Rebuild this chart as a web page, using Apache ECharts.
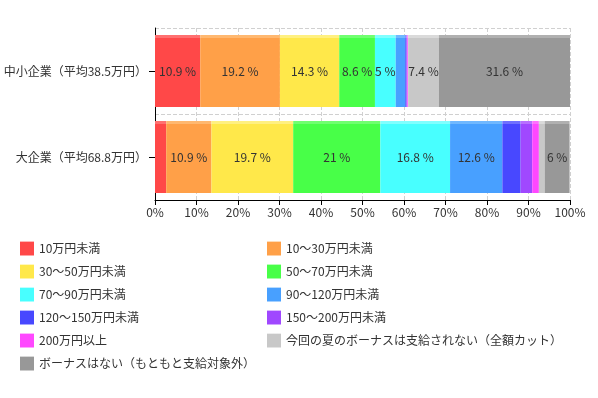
<!DOCTYPE html>
<html><head><meta charset="utf-8">
<script src="https://cdn.jsdelivr.net/npm/echarts@6/dist/echarts.min.js"></script>
<style>html,body{margin:0;padding:0;background:#fff}#c{width:598px;height:398px}</style>
</head><body><div id="c"></div>
<script>
const categories = ['中小企業（平均38.5万円）', '大企業（平均68.8万円）'];
const seriesNames = ['10万円未満','10～30万円未満','30～50万円未満','50～70万円未満','70～90万円未満','90～120万円未満','120～150万円未満','150～200万円未満','200万円以上','今回の夏のボーナスは支給されない（全額カット）','ボーナスはない（もともと支給対象外）'];
const smallCo = [10.9, 19.2, 14.3, 8.6, 5, 2.3, 0.3, 0.2, 0.2, 7.4, 31.6];
const largeCo = [2.7, 10.9, 19.7, 21, 16.8, 12.6, 4.4, 2.8, 1.6, 1.4, 6];
const colors = ['#ff4848','#ffa048','#ffe84a','#48ff48','#48ffff','#48a0ff','#4848ff','#a048ff','#ff48ff','#c8c8c8','#989898'];
const tops = ['#ff7070','#ffb870','#fff080','#70ff70','#80ffff','#70b8ff','#7070ff','#b870ff','#ff70ff','#dadada','#b0b0b0'];
const xTicks = [0,10,20,30,40,50,60,70,80,90,100];

const font = '"Noto Sans CJK JP", "Noto Sans", sans-serif';
const series = seriesNames.map((n, i) => ({
  name: n, type: 'bar', stack: 'all', barWidth: 72,
  data: [smallCo[i], largeCo[i]],
  itemStyle: { color: { type: 'linear', x: 0, y: 0, x2: 0, y2: 1, colorStops: [
    {offset: 0, color: tops[i]}, {offset: 0.035, color: tops[i]}, {offset: 0.036, color: colors[i]}, {offset: 1, color: colors[i]}] } },
  label: { show: true, position: 'inside', color: '#333', fontSize: 12, fontFamily: font,
    formatter: p => p.value >= 5 ? p.value + ' %' : '' }
}));
const leftItems = seriesNames.filter((_, i) => i % 2 === 0);
const rightItems = seriesNames.filter((_, i) => i % 2 === 1);
const chart = echarts.init(document.getElementById('c'), null, {renderer: 'canvas'});
chart.setOption({
  animation: false,
  color: colors,
  grid: { left: 155, right: 28, top: 28, bottom: 198 },
  xAxis: { type: 'value', min: 0, max: 100, interval: 10,
    axisLine: { show: true, lineStyle: { color: '#000' } },
    axisTick: { show: true, length: 5, lineStyle: { color: '#000' } },
    axisLabel: { color: '#333', fontSize: 12, fontFamily: font, margin: 6, formatter: v => xTicks.includes(v) ? v + '%' : '' },
    splitLine: { show: true, lineStyle: { type: 'dashed', color: '#d0d0d0' } } },
  yAxis: { type: 'category', data: categories, inverse: true,
    axisLine: { show: true, lineStyle: { color: '#000' } },
    axisTick: { show: true, alignWithLabel: true, length: 6, lineStyle: { color: '#000' } },
    axisLabel: { color: '#333', fontSize: 12, fontFamily: font, margin: 8 },
    splitLine: { show: true, lineStyle: { type: 'dashed', color: '#d0d0d0' } } },
  legend: [
    { data: leftItems, orient: 'vertical', left: 20, top: 240, padding: 0, itemWidth: 14, itemHeight: 14, itemGap: 6,
      icon: 'rect', textStyle: { color: '#333', fontSize: 12, fontFamily: font, lineHeight: 17 }, selectedMode: false },
    { data: rightItems, orient: 'vertical', left: 267, top: 240, padding: 0, itemWidth: 14, itemHeight: 14, itemGap: 6,
      icon: 'rect', textStyle: { color: '#333', fontSize: 12, fontFamily: font, lineHeight: 17 }, selectedMode: false }
  ],
  series: series
});
</script></body></html>
